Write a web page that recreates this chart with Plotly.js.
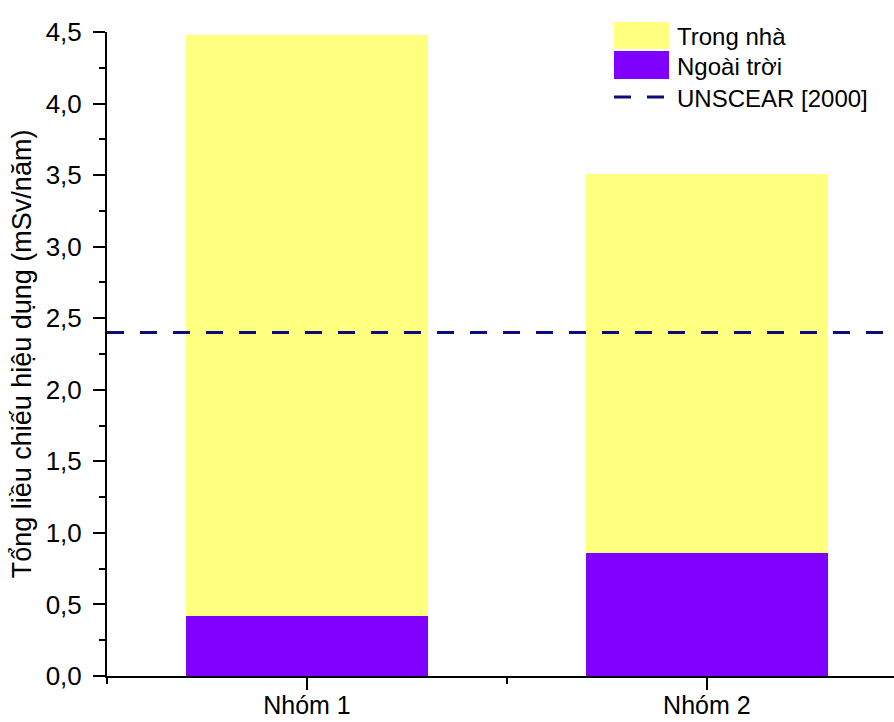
<!DOCTYPE html>
<html>
<head>
<meta charset="utf-8">
<script src="https://cdn.plot.ly/plotly-3.0.1.min.js"></script>
<style>html,body{margin:0;padding:0;background:#fff;}#chart{width:894px;height:722px;}</style>
</head>
<body>
<div id="chart"></div>
<script>
const categories = ["Nhóm 1", "Nhóm 2"];
const outdoor = [0.42, 0.86];      // Ngoài trời
const indoor = [4.06, 2.65];       // Trong nhà
const unscear = 2.4;               // UNSCEAR [2000]
const seriesNames = ["Trong nhà", "Ngoài trời", "UNSCEAR [2000]"];
const yTicks = [0, 0.5, 1, 1.5, 2, 2.5, 3, 3.5, 4, 4.5];

const xpos = categories.map((c, i) => i);
const xr = [-0.5, 1.468];
const FONT = "Liberation Sans, Arial, sans-serif";

const traces = [
  {type: "bar", x: xpos, y: outdoor, name: seriesNames[1], width: 0.605,
   marker: {color: "#8000ff", line: {width: 0}}, showlegend: false, hoverinfo: "skip"},
  {type: "bar", x: xpos, y: indoor, name: seriesNames[0], width: 0.605,
   marker: {color: "#ffff80", line: {width: 0}}, showlegend: false, hoverinfo: "skip"},
  {type: "scatter", mode: "lines", x: xr, y: [unscear, unscear], name: seriesNames[2],
   line: {color: "#0b0b80", width: 3, dash: "17px,16px"}, showlegend: false, hoverinfo: "skip"}
];

const L = 107, R = 894, T = 32, B = 676;
const px = v => (v - L) / (R - L);
const py = v => (B - v) / (B - T);

const shapes = [
  {type: "rect", xref: "paper", yref: "paper", x0: px(614), x1: px(669), y0: py(49), y1: py(22),
   fillcolor: "#ffff80", line: {width: 0}},
  {type: "rect", xref: "paper", yref: "paper", x0: px(614), x1: px(669), y0: py(79), y1: py(51),
   fillcolor: "#8000ff", line: {width: 0}},
  {type: "line", xref: "paper", yref: "paper", x0: px(614), x1: px(664), y0: py(97), y1: py(97),
   line: {color: "#0b0b80", width: 3, dash: "17px,16px"}}
];

const LF = 24;
const annotations = [
  {xref: "paper", yref: "paper", x: px(675), y: py(36), text: seriesNames[0], showarrow: false,
   xanchor: "left", yanchor: "middle", font: {family: FONT, size: LF, color: "#000"}},
  {xref: "paper", yref: "paper", x: px(675), y: py(66), text: seriesNames[1], showarrow: false,
   xanchor: "left", yanchor: "middle", font: {family: FONT, size: LF, color: "#000"}},
  {xref: "paper", yref: "paper", x: px(675), y: py(98), text: seriesNames[2], showarrow: false,
   xanchor: "left", yanchor: "middle", font: {family: FONT, size: LF, color: "#000"}}
];

const layout = {
  width: 894, height: 722,
  margin: {l: L, r: 894 - R, t: T, b: 722 - B, pad: 0},
  paper_bgcolor: "#fff", plot_bgcolor: "#fff",
  separators: ",.",
  barmode: "stack",
  bargap: 0,
  showlegend: false,
  font: {family: FONT, color: "#000"},
  xaxis: {
    range: xr, tickmode: "array", tickvals: xpos, ticktext: categories,
    showgrid: false, zeroline: false, showline: true, linecolor: "#000", linewidth: 2,
    ticks: "outside", ticklen: 12, tickwidth: 2, tickcolor: "#000",
    ticklabelstandoff: -6,
    tickfont: {family: FONT, size: 25, color: "#000"},
    minor: {tickmode: "array", tickvals: [-0.5, 0.5, 1.5], ticks: "outside", ticklen: 6, tickwidth: 2, tickcolor: "#000", showgrid: false},
    fixedrange: true
  },
  yaxis: {
    range: [0, 4.5], tickmode: "array", tickvals: yTicks, tickformat: ".1f",
    showgrid: false, zeroline: false, showline: true, linecolor: "#000", linewidth: 2,
    ticks: "outside", ticklen: 12, tickwidth: 2, tickcolor: "#000",
    ticklabelstandoff: 6,
    tickfont: {family: FONT, size: 26, color: "#000"},
    minor: {dtick: 0.25, ticks: "outside", ticklen: 6, tickwidth: 2, tickcolor: "#000", showgrid: false},
    title: {text: "Tổng liều chiếu hiệu dụng (mSv/năm)", font: {family: FONT, size: 27, color: "#000"}, standoff: 6},
    fixedrange: true
  },
  shapes: shapes,
  annotations: annotations
};

Plotly.newPlot("chart", traces, layout, {displayModeBar: false, staticPlot: true});
</script>
</body>
</html>
